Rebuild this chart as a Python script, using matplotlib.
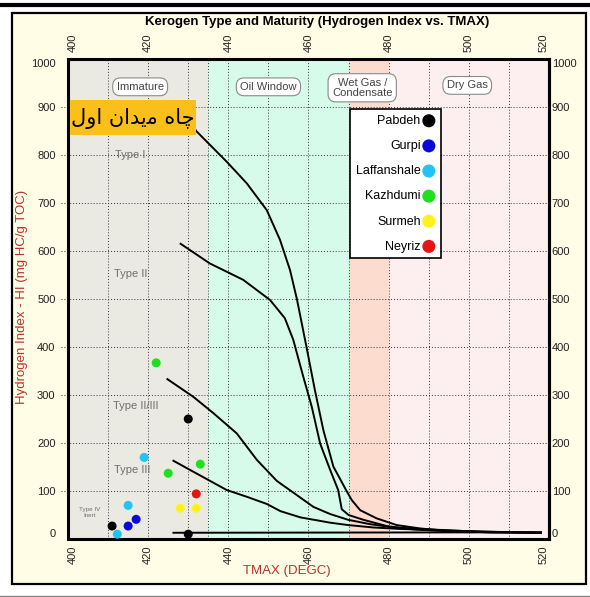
#---------------------------------------------------------------------------------------------
# Kerogen type and maturity diagram (HI vs TMAX) for the source rock samples
#---------------------------------------------------------------------------------------------
import numpy as np
import matplotlib
matplotlib.use('Agg')
import matplotlib.pyplot as plt
from matplotlib.patches import Rectangle
from matplotlib.lines import Line2D

plt.rcParams['font.family'] = ['Liberation Sans', 'DejaVu Sans']

#---------------------------------------------------------------------------------------------
# Sample data: TMAX (degC) and Hydrogen Index (mg HC/g TOC)
pabdeh_tmax = [411, 430, 430]
pabdeh_hi = [27, 250, 10]
gurpi_tmax = [415, 417]
gurpi_hi = [27, 41]
laffan_tmax = [412.3, 415, 419]
laffan_hi = [10, 70, 170]
kazhdumi_tmax = [422, 425, 433]
kazhdumi_hi = [367, 137, 156]
surmeh_tmax = [428, 432]
surmeh_hi = [64, 64]
neyriz_tmax = [432]
neyriz_hi = [94]

formations = ['Pabdeh', 'Gurpi', 'Laffanshale', 'Kazhdumi', 'Surmeh', 'Neyriz']
colors = ['#000000', '#0a0ad8', '#22c3f0', '#1ee01e', '#fff21a', '#e31414']

# Kerogen type reference curves
type1_tmax = [428, 432.1, 439.6, 444.6, 449.6, 452.9, 455.4, 457.1, 459.5, 461.6, 463.7, 466.2,
              469.5, 470.8, 472.9, 477.0, 482.0, 487.8, 494.5, 505, 518]
type1_hi = [895, 849, 786, 741, 685, 623, 560, 500, 400, 310, 227, 151,
            100, 81, 60, 43, 29, 22, 17, 14, 13]
type2_tmax = [428.1, 435.4, 443.7, 450.4, 454.1, 456.2, 458.7, 460.8, 462.9, 465.4, 467.4, 468.3,
              470.0, 473.7, 479.5, 486.2, 492.8, 505, 518]
type2_hi = [615, 574, 540, 498, 460, 415, 338, 276, 199, 144, 102, 62,
            50, 40, 27, 20, 17, 14, 13]
type23_tmax = [424.8, 431.3, 436.3, 442.1, 447.1, 452.1, 457.0, 461.2, 465.4, 469.9, 475.3, 481.2, 487.8, 500, 518]
type23_hi = [333, 296, 262, 220, 165, 121, 92, 67, 52, 40, 31, 24, 21, 16, 13]
type3_tmax = [426.3, 431.3, 439.6, 444.6, 449.6, 453.0, 458.0, 465.4, 469.9, 476.2, 482.8, 490.3, 505, 518]
type3_hi = [163, 140, 102, 88, 73, 58, 45, 34, 29, 24, 21, 19, 15, 13]
type4_tmax = [426.3, 518]
type4_hi = [13, 14]

# Maturity windows (TMAX limits)
zone_names = ['Immature', 'Oil Window', 'Wet Gas /\nCondensate', 'Dry Gas']
zone_edges = [400, 435, 470, 480, 520]
zone_colors = ['#ebeae2', '#d7fbea', '#fcdccf', '#fdeff0']

#---------------------------------------------------------------------------------------------
# Figure and frame
fig = plt.figure(figsize=(5.9, 5.97), dpi=100)
fig.patch.set_facecolor('white')
fig.patches.append(Rectangle((12/590, 1-584/597), 574/590, 571/597, transform=fig.transFigure,
                             facecolor='#fffde6', edgecolor='black', linewidth=1.6, zorder=-2))
fig.lines.append(Line2D([0, 1], [1-4.5/597, 1-4.5/597], transform=fig.transFigure, color='black', linewidth=3))
fig.lines.append(Line2D([0, 1], [1-595.5/597, 1-595.5/597], transform=fig.transFigure, color='#888888', linewidth=1))

ax = fig.add_axes([68/590, 1-539/597, 481/590, 480/597])
ax.set_xlim(400, 520)
ax.set_ylim(0, 1000)

# Maturity zones
for i in range(len(zone_names)):
    ax.axvspan(zone_edges[i], zone_edges[i+1], color=zone_colors[i], zorder=0, linewidth=0)

# Dotted grid (horizontal lines run a little past the left spine)
for x in list(np.arange(410, 520, 10)) + [435]:
    ax.axvline(x, color='#333333', linestyle=(0, (1, 2)), linewidth=0.7, zorder=1)
for y in np.arange(100, 1000, 100):
    ax.axhline(y, xmin=-0.015, xmax=1, color='#333333', linestyle=(0, (1, 2)), linewidth=0.7, zorder=1, clip_on=False)

# Zone labels
zone_lx = [418, 450, 473.4, 499.6]
zone_ly = [942, 942, 940, 945]
for name, lx, ly in zip(zone_names, zone_lx, zone_ly):
    ax.text(lx, ly, name, ha='center', va='center', fontsize=8, color='#444444', zorder=4,
            linespacing=1.05,
            bbox=dict(boxstyle='round,pad=0.35,rounding_size=0.7', facecolor='white', edgecolor='#8a8a8a', linewidth=0.8))

# Type curves
for cx, cy in [(type1_tmax, type1_hi), (type2_tmax, type2_hi), (type23_tmax, type23_hi),
               (type3_tmax, type3_hi), (type4_tmax, type4_hi)]:
    ax.plot(cx, cy, color='black', linewidth=1.4, zorder=3)

# Kerogen type labels
ax.text(415.5, 800, 'Type I', fontsize=8, color='#6f6f6f', ha='center', va='center', zorder=2)
ax.text(415.7, 552, 'Type II', fontsize=8, color='#6f6f6f', ha='center', va='center', zorder=2)
ax.text(417, 277, 'Type II/III', fontsize=8, color='#6f6f6f', ha='center', va='center', zorder=2)
ax.text(416, 144, 'Type III', fontsize=8, color='#6f6f6f', ha='center', va='center', zorder=2)
ax.text(405.5, 55, 'Type IV\nInert', fontsize=4.5, color='#6f6f6f', ha='center', va='center', zorder=2)

# Samples
sample_x = [pabdeh_tmax, gurpi_tmax, laffan_tmax, kazhdumi_tmax, surmeh_tmax, neyriz_tmax]
sample_y = [pabdeh_hi, gurpi_hi, laffan_hi, kazhdumi_hi, surmeh_hi, neyriz_hi]
for sx, sy, name, c in zip(sample_x, sample_y, formations, colors):
    ax.scatter(sx, sy, s=42, color=c, edgecolors='none', label=name, zorder=5)

# Well name tag
ax.add_patch(Rectangle((400.5, 842), 31.5, 73, facecolor='#fbbf1c', edgecolor='none', zorder=6))
ax.text(416.2, 877, '\uFEDD\uFEED\uFE8D \uFEE5\uFE8D\uFEAA\uFBFE\uFEE3 \uFEE9\uFE8E\uFB7C',
        family=['DejaVu Sans'], fontsize=15, ha='center', va='center', zorder=7)

# Legend
leg = ax.legend(loc='upper left', bbox_to_anchor=(0.574, 0.908), markerfirst=False, fontsize=9,
                labelspacing=1.05, handletextpad=0.15, handlelength=1.0, borderpad=0.45,
                fancybox=False, framealpha=1, edgecolor='black', scatterpoints=1, markerscale=1.45)
leg.get_frame().set_linewidth(1.2)
leg.set_zorder(8)

#---------------------------------------------------------------------------------------------
# Axes, ticks and labels
for s in ax.spines.values():
    s.set_linewidth(2.2)
ax.set_xticks(np.arange(400, 521, 20))
ax.set_yticks(np.arange(0, 1001, 100))
ax.tick_params(axis='both', length=0, labelsize=8, colors='#222222')
ax.tick_params(axis='x', top=True, labeltop=True, labelrotation=90, pad=5)
ax.tick_params(axis='y', pad=9)

# Right hand HI labels sit close to the spine
sec = ax.secondary_yaxis('right')
sec.set_yticks(np.arange(0, 1001, 100))
sec.tick_params(length=0, labelsize=8, colors='#222222', pad=2)
sec.spines['right'].set_linewidth(2.2)

xt = ax.xaxis.get_major_ticks()
xt[0].label1.set_ha('left'); xt[0].label2.set_ha('left')
xt[-1].label1.set_ha('right'); xt[-1].label2.set_ha('right')
yt = ax.yaxis.get_major_ticks()
yt[0].label1.set_va('bottom')
yt[-1].label1.set_va('top')
st = sec.yaxis.get_major_ticks()
st[0].label2.set_va('bottom')
st[-1].label2.set_va('top')

ax.set_xlabel('TMAX (DEGC)', fontsize=9.5, color='#b5332b')
ax.xaxis.set_label_coords(0.455, -0.055)
ax.set_ylabel('Hydrogen Index - HI (mg HC/g TOC)', fontsize=9.5, color='#b5332b', va='center')
ax.yaxis.set_label_coords(-0.096, 0.505)
fig.text(317/590, 1-22/597, 'Kerogen Type and Maturity (Hydrogen Index vs. TMAX)', fontsize=9.5,
         fontweight='bold', ha='center', va='center')

# Save the image
plt.savefig('out.png', dpi=100)
